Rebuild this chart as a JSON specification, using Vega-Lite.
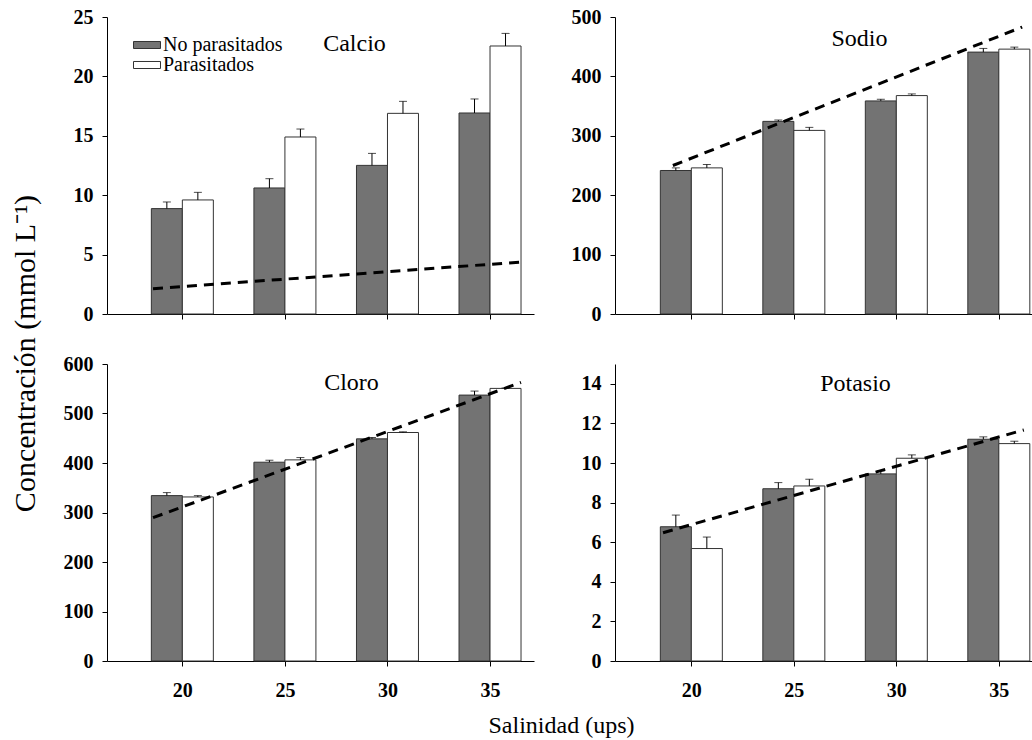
{
  "$schema": "https://vega.github.io/schema/vega-lite/v6.json",
  "padding": {"left": 10, "top": 7, "right": 0, "bottom": 0},
  "config": {
    "view": {"stroke": null},
    "font": "serif",
    "axis": {
      "labelFont": "serif", "labelFontWeight": "bold", "labelFontSize": 20, "labelColor": "#000",
      "domainColor": "#000", "tickColor": "#000", "grid": false, "tickSize": 5, "labelFlush": false, "labelOverlap": false
    },
    "axisY": {"labelPadding": 9},
    "axisX": {"labelPadding": 14},
    "title": {"font": "serif", "fontWeight": "normal", "color": "#000"},
    "legend": {"labelFont": "serif"}
  },
  "datasets": {
    "calcio": [
      {"salinidad": 20, "grupo": "No parasitados", "valor": 8.87, "sup": 9.43},
      {"salinidad": 20, "grupo": "Parasitados", "valor": 9.60, "sup": 10.24},
      {"salinidad": 25, "grupo": "No parasitados", "valor": 10.61, "sup": 11.39},
      {"salinidad": 25, "grupo": "Parasitados", "valor": 14.90, "sup": 15.57},
      {"salinidad": 30, "grupo": "No parasitados", "valor": 12.51, "sup": 13.52},
      {"salinidad": 30, "grupo": "Parasitados", "valor": 16.89, "sup": 17.90},
      {"salinidad": 35, "grupo": "No parasitados", "valor": 16.92, "sup": 18.10},
      {"salinidad": 35, "grupo": "Parasitados", "valor": 22.56, "sup": 23.62}
    ],
    "calcio_recta": [{"salinidad": 18.57, "valor": 2.13}, {"salinidad": 36.57, "valor": 4.38}],
    "sodio": [
      {"salinidad": 20, "grupo": "No parasitados", "valor": 241.6, "sup": 246.0},
      {"salinidad": 20, "grupo": "Parasitados", "valor": 246.0, "sup": 251.7},
      {"salinidad": 25, "grupo": "No parasitados", "valor": 324.3, "sup": 326.6},
      {"salinidad": 25, "grupo": "Parasitados", "valor": 309.1, "sup": 314.2},
      {"salinidad": 30, "grupo": "No parasitados", "valor": 358.7, "sup": 361.5},
      {"salinidad": 30, "grupo": "Parasitados", "valor": 367.7, "sup": 370.5},
      {"salinidad": 35, "grupo": "No parasitados", "valor": 440.9, "sup": 447.1},
      {"salinidad": 35, "grupo": "Parasitados", "valor": 445.9, "sup": 449.3}
    ],
    "sodio_recta": [{"salinidad": 19.1, "valor": 250.0}, {"salinidad": 36.14, "valor": 483.1}],
    "cloro": [
      {"salinidad": 20, "grupo": "No parasitados", "valor": 334.1, "sup": 340.2},
      {"salinidad": 20, "grupo": "Parasitados", "valor": 331.4, "sup": 334.1},
      {"salinidad": 25, "grupo": "No parasitados", "valor": 401.6, "sup": 405.6},
      {"salinidad": 25, "grupo": "Parasitados", "valor": 406.3, "sup": 411.0},
      {"salinidad": 30, "grupo": "No parasitados", "valor": 448.8, "sup": 451.5},
      {"salinidad": 30, "grupo": "Parasitados", "valor": 461.6, "sup": 463.0},
      {"salinidad": 35, "grupo": "No parasitados", "valor": 537.2, "sup": 545.3},
      {"salinidad": 35, "grupo": "Parasitados", "valor": 550.7, "sup": 551.5}
    ],
    "cloro_recta": [{"salinidad": 18.57, "valor": 289.5}, {"salinidad": 36.51, "valor": 562.9}],
    "potasio": [
      {"salinidad": 20, "grupo": "No parasitados", "valor": 6.78, "sup": 7.37},
      {"salinidad": 20, "grupo": "Parasitados", "valor": 5.68, "sup": 6.26},
      {"salinidad": 25, "grupo": "No parasitados", "valor": 8.70, "sup": 9.01},
      {"salinidad": 25, "grupo": "Parasitados", "valor": 8.84, "sup": 9.18},
      {"salinidad": 30, "grupo": "No parasitados", "valor": 9.45, "sup": 9.60},
      {"salinidad": 30, "grupo": "Parasitados", "valor": 10.24, "sup": 10.41},
      {"salinidad": 35, "grupo": "No parasitados", "valor": 11.20, "sup": 11.32},
      {"salinidad": 35, "grupo": "Parasitados", "valor": 10.98, "sup": 11.10}
    ],
    "potasio_recta": [{"salinidad": 18.62, "valor": 6.48}, {"salinidad": 36.22, "valor": 11.67}]
  },
  "title": {"text": "Salinidad (ups)", "orient": "bottom", "anchor": "middle", "dx": 38, "offset": 14, "fontSize": 24},
  "vconcat": [
    {
      "title": {"text": "Concentración (mmol L⁻¹)", "orient": "left", "anchor": "middle", "offset": 22, "fontSize": 30},
      "columns": 2,
      "spacing": {"row": 50, "column": 81},
      "bounds": "flush",
      "resolve": {"scale": {"color": "independent"}, "legend": {"color": "independent"}},
      "concat": [
        {
          "width": 427, "height": 297,
          "title": {"text": "Calcio", "frame": "group", "anchor": "middle", "dx": 34, "offset": -49, "fontSize": 24},
          "data": {"name": "calcio"},
          "encoding": {"x": {"field": "salinidad", "type": "quantitative", "scale": {"domain": [16.57, 36.9], "nice": false, "zero": false}, "axis": {"values": [20, 25, 30, 35], "labels": false, "title": null}}},
          "layer": [
            {"transform": [{"filter": "datum.grupo === 'No parasitados'"}], "mark": {"type": "bar", "width": 31, "xOffset": -15.5, "stroke": "#333", "strokeWidth": 1},
             "encoding": {"y": {"field": "valor", "type": "quantitative", "scale": {"domain": [0, 25], "nice": false}, "axis": {"values": [0, 5, 10, 15, 20, 25], "title": null}},
               "color": {"field": "grupo", "type": "nominal", "scale": {"domain": ["No parasitados", "Parasitados"], "range": ["#737373", "#ffffff"]},
                 "legend": {"orient": "none", "legendX": 30, "legendY": 18, "title": null, "symbolType": "M-2,-0.52H2V0.52H-2Z", "symbolSize": 182, "symbolStrokeColor": "#000", "symbolStrokeWidth": 1, "symbolOpacity": 1, "labelFontSize": 20, "labelColor": "#000", "labelOffset": 6, "rowPadding": 0}}}},
            {"transform": [{"filter": "datum.grupo === 'Parasitados'"}], "mark": {"type": "bar", "width": 31, "xOffset": 15.5, "stroke": "#333", "strokeWidth": 1},
             "encoding": {"y": {"field": "valor", "type": "quantitative", "scale": {"domain": [0, 25], "nice": false}, "axis": {"values": [0, 5, 10, 15, 20, 25], "title": null}},
               "color": {"field": "grupo", "type": "nominal", "scale": {"domain": ["No parasitados", "Parasitados"], "range": ["#737373", "#ffffff"]}}}},
            {"transform": [{"filter": "datum.grupo === 'No parasitados'"}], "mark": {"type": "rule", "xOffset": -15.5, "color": "#000"},
             "encoding": {"y": {"field": "valor", "type": "quantitative", "scale": {"domain": [0, 25], "nice": false}, "axis": {"values": [0, 5, 10, 15, 20, 25], "title": null}}, "y2": {"field": "sup"}}},
            {"transform": [{"filter": "datum.grupo === 'Parasitados'"}], "mark": {"type": "rule", "xOffset": 15.5, "color": "#000"},
             "encoding": {"y": {"field": "valor", "type": "quantitative", "scale": {"domain": [0, 25], "nice": false}, "axis": {"values": [0, 5, 10, 15, 20, 25], "title": null}}, "y2": {"field": "sup"}}},
            {"transform": [{"filter": "datum.grupo === 'No parasitados'"}], "mark": {"type": "tick", "orient": "horizontal", "xOffset": -15.5, "color": "#000", "size": 8, "thickness": 1},
             "encoding": {"y": {"field": "sup", "type": "quantitative", "scale": {"domain": [0, 25], "nice": false}, "axis": {"values": [0, 5, 10, 15, 20, 25], "title": null}}}},
            {"transform": [{"filter": "datum.grupo === 'Parasitados'"}], "mark": {"type": "tick", "orient": "horizontal", "xOffset": 15.5, "color": "#000", "size": 8, "thickness": 1},
             "encoding": {"y": {"field": "sup", "type": "quantitative", "scale": {"domain": [0, 25], "nice": false}, "axis": {"values": [0, 5, 10, 15, 20, 25], "title": null}}}},
            {"data": {"name": "calcio_recta"}, "mark": {"type": "line", "color": "#000", "strokeWidth": 3, "strokeDash": [10, 7]},
             "encoding": {"y": {"field": "valor", "type": "quantitative", "scale": {"domain": [0, 25], "nice": false}, "axis": {"values": [0, 5, 10, 15, 20, 25], "title": null}}}}
          ]
        },
        {
          "width": 421, "height": 297,
          "title": {"text": "Sodio", "frame": "group", "anchor": "middle", "dx": 34, "offset": -44, "fontSize": 24},
          "data": {"name": "sodio"},
          "encoding": {"x": {"field": "salinidad", "type": "quantitative", "scale": {"domain": [16.52, 36.57], "nice": false, "zero": false}, "axis": {"values": [20, 25, 30, 35], "labels": false, "title": null}}},
          "layer": [
            {"transform": [{"filter": "datum.grupo === 'No parasitados'"}], "mark": {"type": "bar", "width": 31, "xOffset": -15.5, "stroke": "#333", "strokeWidth": 1},
             "encoding": {"y": {"field": "valor", "type": "quantitative", "scale": {"domain": [0, 500], "nice": false}, "axis": {"values": [0, 100, 200, 300, 400, 500], "title": null}},
               "color": {"field": "grupo", "type": "nominal", "scale": {"domain": ["No parasitados", "Parasitados"], "range": ["#737373", "#ffffff"]}, "legend": null}}},
            {"transform": [{"filter": "datum.grupo === 'Parasitados'"}], "mark": {"type": "bar", "width": 31, "xOffset": 15.5, "stroke": "#333", "strokeWidth": 1},
             "encoding": {"y": {"field": "valor", "type": "quantitative", "scale": {"domain": [0, 500], "nice": false}, "axis": {"values": [0, 100, 200, 300, 400, 500], "title": null}},
               "color": {"field": "grupo", "type": "nominal", "scale": {"domain": ["No parasitados", "Parasitados"], "range": ["#737373", "#ffffff"]}, "legend": null}}},
            {"transform": [{"filter": "datum.grupo === 'No parasitados'"}], "mark": {"type": "rule", "xOffset": -15.5, "color": "#000"},
             "encoding": {"y": {"field": "valor", "type": "quantitative", "scale": {"domain": [0, 500], "nice": false}, "axis": {"values": [0, 100, 200, 300, 400, 500], "title": null}}, "y2": {"field": "sup"}}},
            {"transform": [{"filter": "datum.grupo === 'Parasitados'"}], "mark": {"type": "rule", "xOffset": 15.5, "color": "#000"},
             "encoding": {"y": {"field": "valor", "type": "quantitative", "scale": {"domain": [0, 500], "nice": false}, "axis": {"values": [0, 100, 200, 300, 400, 500], "title": null}}, "y2": {"field": "sup"}}},
            {"transform": [{"filter": "datum.grupo === 'No parasitados'"}], "mark": {"type": "tick", "orient": "horizontal", "xOffset": -15.5, "color": "#000", "size": 8, "thickness": 1},
             "encoding": {"y": {"field": "sup", "type": "quantitative", "scale": {"domain": [0, 500], "nice": false}, "axis": {"values": [0, 100, 200, 300, 400, 500], "title": null}}}},
            {"transform": [{"filter": "datum.grupo === 'Parasitados'"}], "mark": {"type": "tick", "orient": "horizontal", "xOffset": 15.5, "color": "#000", "size": 8, "thickness": 1},
             "encoding": {"y": {"field": "sup", "type": "quantitative", "scale": {"domain": [0, 500], "nice": false}, "axis": {"values": [0, 100, 200, 300, 400, 500], "title": null}}}},
            {"data": {"name": "sodio_recta"}, "mark": {"type": "line", "color": "#000", "strokeWidth": 3, "strokeDash": [10, 7]},
             "encoding": {"y": {"field": "valor", "type": "quantitative", "scale": {"domain": [0, 500], "nice": false}, "axis": {"values": [0, 100, 200, 300, 400, 500], "title": null}}}}
          ]
        },
        {
          "width": 427, "height": 297,
          "title": {"text": "Cloro", "frame": "group", "anchor": "middle", "dx": 31, "offset": -41, "fontSize": 24},
          "data": {"name": "cloro"},
          "encoding": {"x": {"field": "salinidad", "type": "quantitative", "scale": {"domain": [16.57, 36.9], "nice": false, "zero": false}, "axis": {"values": [20, 25, 30, 35], "labels": true, "title": null}}},
          "layer": [
            {"transform": [{"filter": "datum.grupo === 'No parasitados'"}], "mark": {"type": "bar", "width": 31, "xOffset": -15.5, "stroke": "#333", "strokeWidth": 1},
             "encoding": {"y": {"field": "valor", "type": "quantitative", "scale": {"domain": [0, 600], "nice": false}, "axis": {"values": [0, 100, 200, 300, 400, 500, 600], "title": null}},
               "color": {"field": "grupo", "type": "nominal", "scale": {"domain": ["No parasitados", "Parasitados"], "range": ["#737373", "#ffffff"]}, "legend": null}}},
            {"transform": [{"filter": "datum.grupo === 'Parasitados'"}], "mark": {"type": "bar", "width": 31, "xOffset": 15.5, "stroke": "#333", "strokeWidth": 1},
             "encoding": {"y": {"field": "valor", "type": "quantitative", "scale": {"domain": [0, 600], "nice": false}, "axis": {"values": [0, 100, 200, 300, 400, 500, 600], "title": null}},
               "color": {"field": "grupo", "type": "nominal", "scale": {"domain": ["No parasitados", "Parasitados"], "range": ["#737373", "#ffffff"]}, "legend": null}}},
            {"transform": [{"filter": "datum.grupo === 'No parasitados'"}], "mark": {"type": "rule", "xOffset": -15.5, "color": "#000"},
             "encoding": {"y": {"field": "valor", "type": "quantitative", "scale": {"domain": [0, 600], "nice": false}, "axis": {"values": [0, 100, 200, 300, 400, 500, 600], "title": null}}, "y2": {"field": "sup"}}},
            {"transform": [{"filter": "datum.grupo === 'Parasitados'"}], "mark": {"type": "rule", "xOffset": 15.5, "color": "#000"},
             "encoding": {"y": {"field": "valor", "type": "quantitative", "scale": {"domain": [0, 600], "nice": false}, "axis": {"values": [0, 100, 200, 300, 400, 500, 600], "title": null}}, "y2": {"field": "sup"}}},
            {"transform": [{"filter": "datum.grupo === 'No parasitados'"}], "mark": {"type": "tick", "orient": "horizontal", "xOffset": -15.5, "color": "#000", "size": 8, "thickness": 1},
             "encoding": {"y": {"field": "sup", "type": "quantitative", "scale": {"domain": [0, 600], "nice": false}, "axis": {"values": [0, 100, 200, 300, 400, 500, 600], "title": null}}}},
            {"transform": [{"filter": "datum.grupo === 'Parasitados'"}], "mark": {"type": "tick", "orient": "horizontal", "xOffset": 15.5, "color": "#000", "size": 8, "thickness": 1},
             "encoding": {"y": {"field": "sup", "type": "quantitative", "scale": {"domain": [0, 600], "nice": false}, "axis": {"values": [0, 100, 200, 300, 400, 500, 600], "title": null}}}},
            {"data": {"name": "cloro_recta"}, "mark": {"type": "line", "color": "#000", "strokeWidth": 3, "strokeDash": [10, 7]},
             "encoding": {"y": {"field": "valor", "type": "quantitative", "scale": {"domain": [0, 600], "nice": false}, "axis": {"values": [0, 100, 200, 300, 400, 500, 600], "title": null}}}}
          ]
        },
        {
          "width": 421, "height": 297,
          "title": {"text": "Potasio", "frame": "group", "anchor": "middle", "dx": 30, "offset": -32, "fontSize": 24},
          "data": {"name": "potasio"},
          "encoding": {"x": {"field": "salinidad", "type": "quantitative", "scale": {"domain": [16.52, 36.57], "nice": false, "zero": false}, "axis": {"values": [20, 25, 30, 35], "labels": true, "title": null}}},
          "layer": [
            {"transform": [{"filter": "datum.grupo === 'No parasitados'"}], "mark": {"type": "bar", "width": 31, "xOffset": -15.5, "stroke": "#333", "strokeWidth": 1},
             "encoding": {"y": {"field": "valor", "type": "quantitative", "scale": {"domain": [0, 15], "nice": false}, "axis": {"values": [0, 2, 4, 6, 8, 10, 12, 14], "title": null}},
               "color": {"field": "grupo", "type": "nominal", "scale": {"domain": ["No parasitados", "Parasitados"], "range": ["#737373", "#ffffff"]}, "legend": null}}},
            {"transform": [{"filter": "datum.grupo === 'Parasitados'"}], "mark": {"type": "bar", "width": 31, "xOffset": 15.5, "stroke": "#333", "strokeWidth": 1},
             "encoding": {"y": {"field": "valor", "type": "quantitative", "scale": {"domain": [0, 15], "nice": false}, "axis": {"values": [0, 2, 4, 6, 8, 10, 12, 14], "title": null}},
               "color": {"field": "grupo", "type": "nominal", "scale": {"domain": ["No parasitados", "Parasitados"], "range": ["#737373", "#ffffff"]}, "legend": null}}},
            {"transform": [{"filter": "datum.grupo === 'No parasitados'"}], "mark": {"type": "rule", "xOffset": -15.5, "color": "#000"},
             "encoding": {"y": {"field": "valor", "type": "quantitative", "scale": {"domain": [0, 15], "nice": false}, "axis": {"values": [0, 2, 4, 6, 8, 10, 12, 14], "title": null}}, "y2": {"field": "sup"}}},
            {"transform": [{"filter": "datum.grupo === 'Parasitados'"}], "mark": {"type": "rule", "xOffset": 15.5, "color": "#000"},
             "encoding": {"y": {"field": "valor", "type": "quantitative", "scale": {"domain": [0, 15], "nice": false}, "axis": {"values": [0, 2, 4, 6, 8, 10, 12, 14], "title": null}}, "y2": {"field": "sup"}}},
            {"transform": [{"filter": "datum.grupo === 'No parasitados'"}], "mark": {"type": "tick", "orient": "horizontal", "xOffset": -15.5, "color": "#000", "size": 8, "thickness": 1},
             "encoding": {"y": {"field": "sup", "type": "quantitative", "scale": {"domain": [0, 15], "nice": false}, "axis": {"values": [0, 2, 4, 6, 8, 10, 12, 14], "title": null}}}},
            {"transform": [{"filter": "datum.grupo === 'Parasitados'"}], "mark": {"type": "tick", "orient": "horizontal", "xOffset": 15.5, "color": "#000", "size": 8, "thickness": 1},
             "encoding": {"y": {"field": "sup", "type": "quantitative", "scale": {"domain": [0, 15], "nice": false}, "axis": {"values": [0, 2, 4, 6, 8, 10, 12, 14], "title": null}}}},
            {"data": {"name": "potasio_recta"}, "mark": {"type": "line", "color": "#000", "strokeWidth": 3, "strokeDash": [10, 7]},
             "encoding": {"y": {"field": "valor", "type": "quantitative", "scale": {"domain": [0, 15], "nice": false}, "axis": {"values": [0, 2, 4, 6, 8, 10, 12, 14], "title": null}}}}
          ]
        }
      ]
    }
  ]
}
